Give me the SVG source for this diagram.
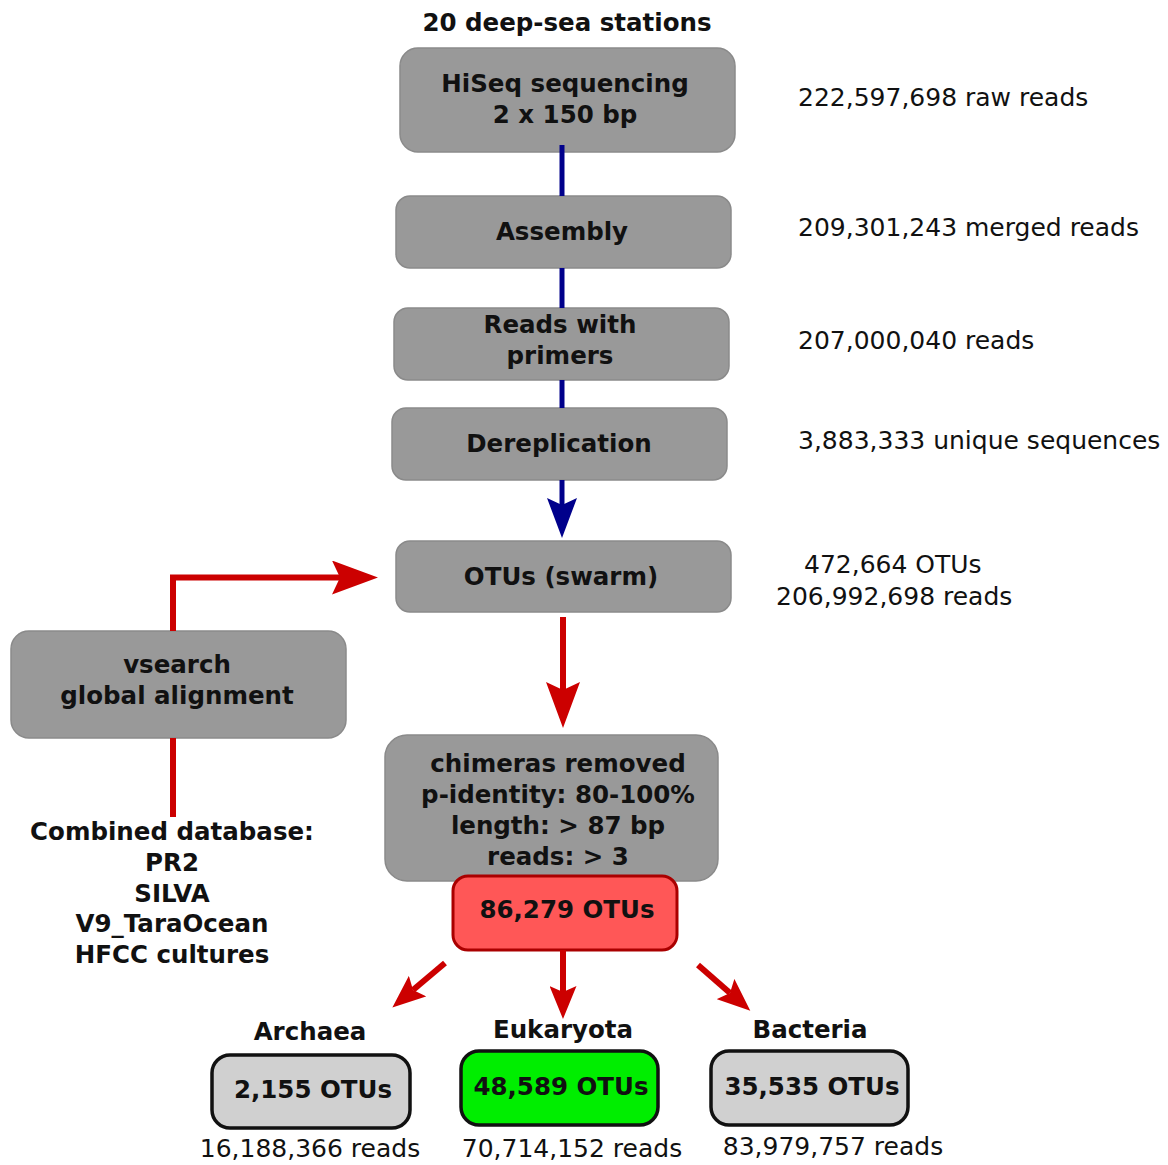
<svg xmlns="http://www.w3.org/2000/svg" width="1168" height="1165" viewBox="0 0 1168 1165">
<style>
text{font-family:"DejaVu Sans","Verdana",sans-serif;fill:#111}
.b{font-weight:bold;font-size:24.5px;text-anchor:middle}
.r{font-size:25px}
.rc{font-size:25px;text-anchor:middle}
.gray{fill:#999999;stroke:#8a8a8a;stroke-width:1.5}
.lt{fill:#d0d0d0;stroke:#111;stroke-width:3.5}
.blue{stroke:#00008b;stroke-width:5;fill:none}
.red{stroke:#cc0000;stroke-width:6;fill:none}
</style>
<defs>
<marker id="ab" viewBox="0 0 40 30" refX="7" refY="15" markerWidth="40" markerHeight="30" markerUnits="userSpaceOnUse" orient="auto"><path d="M0,0 L40,15 L0,30 L7,15 Z" fill="#00008b"/></marker>
<marker id="arB" viewBox="0 0 46 34" refX="8" refY="17" markerWidth="46" markerHeight="34" markerUnits="userSpaceOnUse" orient="auto"><path d="M0,0 L46,17 L0,34 L8,17 Z" fill="#cc0000"/></marker>
<marker id="arS" viewBox="0 0 33 27" refX="6" refY="13.5" markerWidth="33" markerHeight="27" markerUnits="userSpaceOnUse" orient="auto"><path d="M0,0 L33,13.5 L0,27 L6,13.5 Z" fill="#cc0000"/></marker>
</defs>
<rect width="1168" height="1165" fill="#fff"/>
<text class="b" x="567" y="31">20 deep-sea stations</text>
<g id="hiseq"><rect class="gray" x="400" y="48" width="335" height="104" rx="18"/><text class="b" x="565" y="92">HiSeq sequencing</text><text class="b" x="565" y="123">2 x 150 bp</text></g>
<g id="assembly"><rect class="gray" x="396" y="196" width="335" height="72" rx="14"/><text class="b" x="562" y="240">Assembly</text></g>
<g id="primers"><rect class="gray" x="394" y="308" width="335" height="72" rx="14"/><text class="b" x="560" y="333">Reads with</text><text class="b" x="560" y="364">primers</text></g>
<g id="derep"><rect class="gray" x="392" y="408" width="335" height="72" rx="14"/><text class="b" x="559" y="452">Dereplication</text></g>
<g id="swarm"><rect class="gray" x="396" y="541" width="335" height="71" rx="14"/><text class="b" x="561" y="585">OTUs (swarm)</text></g>
<g id="vsearch"><rect class="gray" x="11" y="631" width="335" height="107" rx="18"/><text class="b" x="177" y="673">vsearch</text><text class="b" x="177" y="704">global alignment</text></g>
<g id="database"><text class="b" x="172" y="840">Combined database:</text><text class="b" x="172" y="871">PR2</text><text class="b" x="172" y="902">SILVA</text><text class="b" x="172" y="932">V9_TaraOcean</text><text class="b" x="172" y="963">HFCC cultures</text></g>
<g id="chimeras"><rect class="gray" x="385" y="735" width="333" height="146" rx="22"/><text class="b" x="558" y="772">chimeras removed</text><text class="b" x="558" y="803">p-identity: 80-100%</text><text class="b" x="558" y="834">length: &gt; 87 bp</text><text class="b" x="558" y="865">reads: &gt; 3</text></g>
<g id="total"><rect x="453" y="876" width="224" height="74" rx="15" fill="#ff5757" stroke="#aa0000" stroke-width="3"/><text class="b" x="567" y="918">86,279 OTUs</text></g>
<g id="archaea"><text class="b" x="310" y="1040">Archaea</text><rect class="lt" x="212" y="1055" width="198" height="73" rx="18"/><text class="b" x="313" y="1098">2,155 OTUs</text><text class="rc" x="310" y="1157">16,188,366 reads</text></g>
<g id="eukaryota"><text class="b" x="563" y="1038">Eukaryota</text><rect x="461" y="1051" width="197" height="74" rx="18" fill="#00ee00" stroke="#111" stroke-width="3.5"/><text class="b" x="561" y="1095">48,589 OTUs</text><text class="rc" x="572" y="1157">70,714,152 reads</text></g>
<g id="bacteria"><text class="b" x="810" y="1038">Bacteria</text><rect class="lt" x="711" y="1051" width="197" height="74" rx="18"/><text class="b" x="812" y="1095">35,535 OTUs</text><text class="rc" x="833" y="1155">83,979,757 reads</text></g>
<g id="counts">
<text class="r" x="798" y="106">222,597,698 raw reads</text>
<text class="r" x="798" y="236">209,301,243 merged reads</text>
<text class="r" x="798" y="349">207,000,040 reads</text>
<text class="r" x="798" y="449">3,883,333 unique sequences</text>
<text class="r" x="804" y="573">472,664 OTUs</text>
<text class="r" x="776" y="605">206,992,698 reads</text>
</g>
<g id="connectors">
<line class="blue" x1="562" y1="145" x2="562" y2="196"/>
<line class="blue" x1="562" y1="268" x2="562" y2="308"/>
<line class="blue" x1="562" y1="380" x2="562" y2="408"/>
<line class="blue" x1="562" y1="480" x2="562" y2="505" marker-end="url(#ab)"/>
<line class="red" x1="563" y1="617" x2="563" y2="690" marker-end="url(#arB)"/>
<path class="red" d="M173,631 V577.5 H340" marker-end="url(#arB)"/>
<line class="red" x1="173" y1="738" x2="173" y2="817"/>
<line class="red" x1="445" y1="963" x2="413" y2="990" marker-end="url(#arS)"/>
<line class="red" x1="563" y1="950" x2="563" y2="992" marker-end="url(#arS)"/>
<line class="red" x1="698" y1="965" x2="730" y2="993" marker-end="url(#arS)"/>
</g>
</svg>
